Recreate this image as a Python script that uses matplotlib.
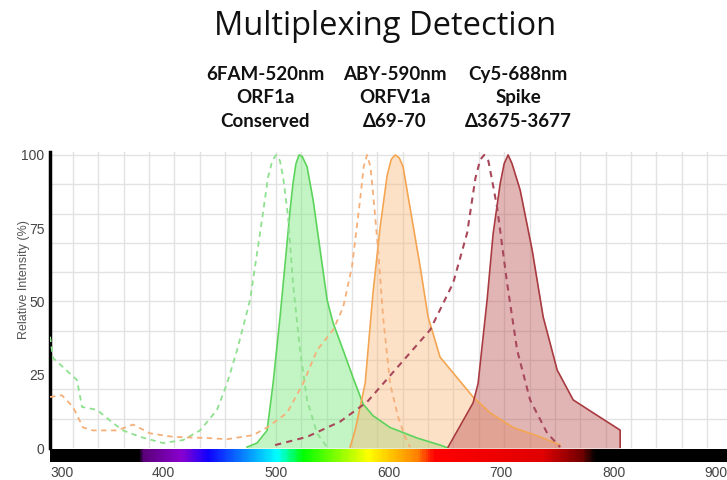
import numpy as np
import matplotlib.pyplot as plt
from matplotlib.colors import LinearSegmentedColormap

# 6FAM
fam_ex_nm = [300, 302.7, 311.5, 323.9, 328.4, 341.7, 355.9, 364.7, 379.8, 400.2, 417.9, 433, 448,
             456.9, 465.8, 477.3, 486.2, 493.3, 497, 500.4, 503.8, 506.6, 511, 515.4, 521.6,
             527.8, 536.7, 545.6]
fam_ex = [38, 30.7, 27.6, 23.2, 14, 13, 8.5, 6, 3.8, 1.7, 2.7, 6, 13,
          22, 33.4, 50.5, 73.4, 92.5, 98, 100, 98, 92.5, 79, 56, 33.4,
          16.4, 5, 0.3]
fam_em_nm = [474.6, 483.5, 492.4, 497.7, 503.9, 510.1, 513, 515.4, 518, 520.7, 523.5, 527.8,
             533.2, 539.4, 545.6, 550.9, 559.8, 568.6, 577.5, 586.3, 601.4, 625.4, 645.7, 652.8]
fam_em = [0.3, 1.7, 6, 22, 44.7, 70, 82, 90.4, 97, 100, 99.5, 96,
          84.6, 67.6, 50.5, 42.7, 33.4, 24, 15, 11, 7, 3.4, 1, 0]

# ABY
aby_ex_nm = [300, 310.6, 320.4, 329.3, 338.1, 359.4, 373.6, 388.7, 409, 439.2, 456.9, 480, 492.4,
             510.1, 524.3, 536.7, 550.9, 559.8, 567.7, 574.8, 578, 581, 584, 586.3, 590.8, 595.2,
             601.4, 608.5, 614.7, 619.1]
aby_ex = [17.4, 18, 14, 7, 6, 6, 8, 5, 3.8, 3.4, 3, 4.4, 7,
          12, 22, 33.4, 40.3, 48, 62, 84.6, 96, 100, 96, 87, 67.6, 44.7,
          22, 10.6, 3.8, 0.3]
aby_em_nm = [566, 570.4, 579.3, 586.3, 592.6, 598.8, 602.5, 605.9, 609.5, 612.9, 619.1, 628,
             635.1, 645.7, 660.8, 675, 690.1, 710.5, 734.4, 752.1]
aby_em = [0.3, 6, 22, 53, 75.4, 93, 98.5, 100, 99, 96, 82, 62,
          44.7, 31, 24, 17.4, 12, 7, 3.8, 1]

# Cy5
cy5_ex_nm = [499.5, 527.8, 557.1, 581, 636.9, 657.3, 669.7, 677, 681.2, 684.8, 688.5, 692,
             696.3, 705.1, 714, 725.5, 740.6, 752.1]
cy5_ex = [1, 3.8, 9, 15.7, 40.3, 56.3, 73.4, 92, 98.3, 100, 98, 91,
          82, 56.3, 33.4, 16.4, 5.1, 0.3]
cy5_em_nm = [652.8, 675, 679.4, 687.4, 692.7, 698.9, 702.5, 706, 709.5, 716.7, 727.3, 737.1,
             749.5, 763.7, 781.4, 805.3, 805.3]
cy5_em = [0.3, 15.4, 22, 50.5, 73, 90, 97, 100, 97, 88, 67.6, 44.7,
          26.6, 16.4, 12, 6.1, 0]

header_x = [265, 395, 518]
header_lines = [["6FAM-520nm", "ORF1a", "Conserved"],
                ["ABY-590nm", "ORFV1a", "Δ69-70"],
                ["Cy5-688nm", "Spike", "Δ3675-3677"]]

xticks = [300, 400, 500, 600, 700, 800, 900]
yticks = [0, 25, 50, 75, 100]

W, H = 727, 480
fig = plt.figure(figsize=(W / 100, H / 100), dpi=100)
fig.patch.set_facecolor('white')

ax = fig.add_axes([50 / W, 32 / H, 677 / W, 296 / H])
ax.set_xlim(300, 900)
ax.set_ylim(0, 101)

# grid (does not line up with the ticks in the original)
for g in np.arange(320.4, 900, 22.48):
    ax.axvline(g, color='#e2e2e2', lw=1, zorder=0)
for g in range(10, 101, 10):
    ax.axhline(g, color='#e2e2e2', lw=1, zorder=0)

ax.fill_between(fam_em_nm, fam_em, color='#7be87b', alpha=0.45, lw=0, zorder=2)
ax.fill_between(aby_em_nm, aby_em, color='#fbb87a', alpha=0.42, lw=0, zorder=2)
ax.fill_between(cy5_em_nm, cy5_em, color='#b84848', alpha=0.40, lw=0, zorder=2)

ax.plot(fam_em_nm, fam_em, color='#5cd45c', lw=1.2, zorder=3)
ax.plot(aby_em_nm, aby_em, color='#f4a552', lw=1.2, zorder=3)
ax.plot(cy5_em_nm, cy5_em, color='#a83a40', lw=1.2, zorder=3)

ax.plot(fam_ex_nm, fam_ex, color='#8fe08f', lw=1.3, ls=(0, (3, 2.5)), zorder=4)
ax.plot(aby_ex_nm, aby_ex, color='#f5b07a', lw=1.3, ls=(0, (3, 2.5)), zorder=4)
ax.plot(cy5_ex_nm, cy5_ex, color='#a8485a', lw=1.5, ls=(0, (3, 2.5)), zorder=4)

for s in ['top', 'right', 'bottom']:
    ax.spines[s].set_visible(False)
ax.spines['left'].set_linewidth(2.5)
ax.spines['left'].set_color('black')
ax.set_xticks([])
ax.set_yticks(yticks)
ax.tick_params(axis='y', length=0, pad=4, labelcolor='#444', labelsize=10)
for t in ax.get_yticklabels():
    t.set_family('Liberation Sans')
ax.set_ylabel('Relative Intensity (%)', fontsize=9, color='#555', family='Liberation Sans')
ax.yaxis.set_label_coords(-0.030, 0.568)

# spectrum bar
stops = [(300, '#000000'), (379, '#000000'), (381, '#5a0078'), (416, '#8a00d0'),
         (439, '#1000ff'), (501, '#00ffff'), (524, '#00ff00'), (582, '#ffff00'),
         (626, '#ff8000'), (641, '#ff0000'), (738, '#e00000'), (773, '#700000'),
         (784, '#000000'), (900, '#000000')]
cmap = LinearSegmentedColormap.from_list('spec', [((n - 300) / 600, c) for n, c in stops])
bar = fig.add_axes([50 / W, 18 / H, 677 / W, 13 / H])
bar.imshow(np.linspace(0, 1, 600)[None, :], cmap=cmap, aspect='auto', extent=[300, 900, 0, 1])
bar.set_xlim(300, 900)
bar.set_yticks([])
for s in bar.spines.values():
    s.set_visible(False)
bar.set_xticks(xticks)
bar.tick_params(axis='x', length=0, pad=3, labelcolor='#444', labelsize=10)
labels = bar.get_xticklabels()
for t in labels:
    t.set_family('Liberation Sans')
labels[0].set_ha('left')
labels[-1].set_ha('right')

fig.text(385 / W, 1 - 35 / H, 'Multiplexing Detection', ha='center', va='baseline',
         fontsize=23.5, family=['Open Sans', 'DejaVu Sans'], color='#111')
for x, lines in zip(header_x, header_lines):
    for i, line in enumerate(lines):
        fig.text(x / W, 1 - (80 + 23.3 * i) / H, line, ha='center', va='baseline',
                 fontsize=13.5, fontweight='bold', family=['Lato', 'DejaVu Sans'], color='#111')

fig.savefig('out.png', dpi=100)
